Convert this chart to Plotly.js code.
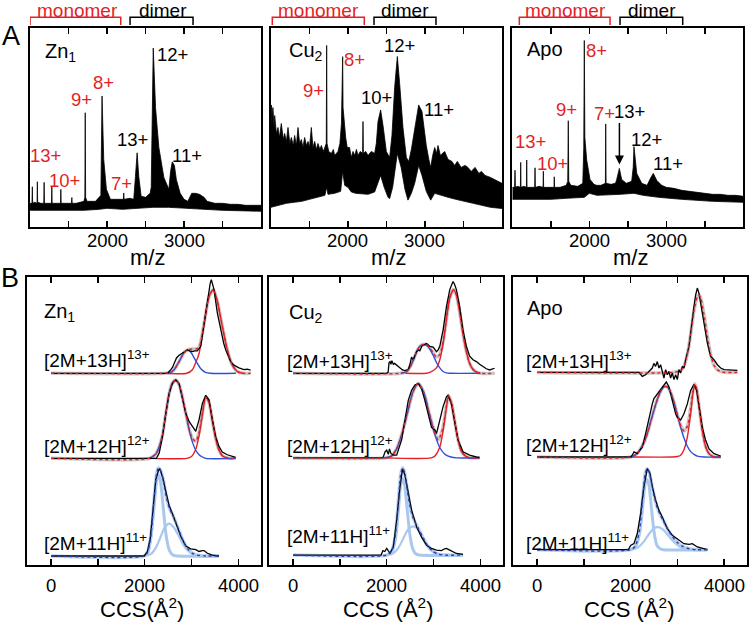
<!DOCTYPE html>
<html><head><meta charset="utf-8">
<script src="https://cdn.plot.ly/plotly-3.0.1.min.js"></script>
<style>html,body{margin:0;padding:0;background:#fff}#chart{width:749px;height:623px}</style>
</head><body><div id="chart"></div>
<script>
// ---------------- DATA ----------------
const ms_tick_vals = [1500, 2000, 2500, 3000, 3500];
const ms_tick_text = ['', '2000', '', '3000', ''];
const ccs_tick_vals = [0, 1000, 2000, 3000, 4000];
const ccs_tick_text = ['0', '', '2000', '', '4000'];

// Panel A: mass spectra (m/z, relative intensity); noisy trace drawn as band between envelopes
const zn_ms_upper = [[1000,0.12],[1025,0.12],[1030,0.203],[1034,0.12],[1060,0.125],[1091,0.12],[1095,0.228],[1099,0.125],[1140,0.12],[1179,0.12],[1183,0.225],[1187,0.12],[1230,0.12],[1279,0.12],[1283,0.203],[1287,0.12],[1340,0.12],[1396,0.12],[1400,0.19],[1404,0.12],[1470,0.12],[1539,0.12],[1543,0.149],[1547,0.12],[1600,0.12],[1700,0.13],[1712,0.15],[1717,0.574],[1722,0.15],[1740,0.13],[1850,0.13],[1920,0.16],[1935,0.658],[1945,0.42],[1957,0.34],[1992,0.19],[2044,0.14],[2150,0.14],[2212,0.14],[2217,0.172],[2222,0.14],[2300,0.145],[2347,0.14],[2369,0.255],[2391,0.373],[2412,0.255],[2443,0.155],[2500,0.15],[2560,0.17],[2574,0.2],[2587,0.53],[2600,0.898],[2630,0.6],[2673,0.4],[2738,0.25],[2803,0.19],[2825,0.28],[2847,0.328],[2875,0.31],[2900,0.24],[2950,0.17],[3000,0.14],[3050,0.13],[3100,0.17],[3150,0.17],[3200,0.165],[3260,0.15],[3300,0.13],[3400,0.12],[3500,0.12],[3600,0.115],[3700,0.115],[3800,0.11],[3900,0.11],[4000,0.11]];
const zn_ms_lower = [[1000,0.085],[1200,0.085],[1500,0.085],[1700,0.085],[1900,0.09],[2000,0.095],[2200,0.09],[2400,0.095],[2600,0.1],[2800,0.1],[3000,0.095],[3200,0.09],[3500,0.085],[4000,0.08]];

const cu_ms_upper = [[1000,0.5],[1004,0.613],[1015,0.55],[1025,0.6],[1040,0.5],[1048,0.56],[1070,0.47],[1091,0.5],[1110,0.45],[1134,0.52],[1160,0.44],[1177,0.47],[1200,0.43],[1221,0.5],[1245,0.42],[1264,0.45],[1290,0.41],[1307,0.46],[1330,0.41],[1351,0.5],[1372,0.42],[1394,0.44],[1415,0.4],[1437,0.45],[1460,0.41],[1481,0.43],[1500,0.4],[1524,0.5],[1545,0.4],[1567,0.43],[1590,0.39],[1610,0.42],[1635,0.39],[1654,0.41],[1680,0.38],[1700,0.4],[1718,0.42],[1723,0.911],[1728,0.42],[1750,0.38],[1784,0.37],[1810,0.39],[1827,0.36],[1870,0.38],[1895,0.42],[1915,0.52],[1925,0.7],[1931,0.855],[1936,0.6],[1950,0.52],[1970,0.45],[1990,0.4],[2020,0.4],[2043,0.35],[2065,0.38],[2087,0.36],[2110,0.39],[2130,0.36],[2160,0.38],[2190,0.37],[2195,0.53],[2200,0.37],[2230,0.38],[2260,0.36],[2303,0.38],[2346,0.37],[2368,0.42],[2390,0.53],[2424,0.588],[2455,0.51],[2498,0.38],[2541,0.35],[2571,0.46],[2606,0.7],[2641,0.856],[2671,0.72],[2714,0.5],[2758,0.35],[2790,0.33],[2823,0.39],[2866,0.5],[2918,0.613],[2961,0.58],[3017,0.41],[3050,0.34],[3074,0.3],[3100,0.36],[3126,0.4],[3150,0.37],[3169,0.41],[3200,0.36],[3255,0.38],[3300,0.34],[3350,0.33],[3385,0.31],[3420,0.33],[3470,0.3],[3520,0.31],[3558,0.3],[3600,0.28],[3650,0.3],[3700,0.27],[3732,0.28],[3780,0.26],[3850,0.25],[3900,0.24],[3950,0.23],[4000,0.22]];
const cu_ms_lower = [[1000,0.1],[1100,0.11],[1200,0.12],[1300,0.125],[1400,0.13],[1500,0.14],[1600,0.15],[1700,0.16],[1723,0.2],[1740,0.165],[1827,0.17],[1905,0.18],[1931,0.28],[1957,0.21],[2000,0.2],[2043,0.177],[2100,0.17],[2200,0.165],[2260,0.165],[2346,0.177],[2424,0.26],[2470,0.2],[2520,0.15],[2541,0.144],[2580,0.2],[2641,0.37],[2690,0.3],[2740,0.19],[2779,0.136],[2823,0.17],[2866,0.22],[2918,0.31],[2961,0.26],[3017,0.18],[3074,0.136],[3126,0.17],[3200,0.16],[3300,0.15],[3400,0.14],[3558,0.127],[3732,0.11],[3850,0.1],[4000,0.094]];

const apo_ms_upper = [[1000,0.2],[1030,0.2],[1035,0.286],[1040,0.2],[1070,0.205],[1105,0.2],[1109,0.325],[1113,0.2],[1150,0.205],[1183,0.2],[1187,0.337],[1191,0.2],[1240,0.2],[1291,0.2],[1295,0.298],[1299,0.2],[1350,0.205],[1399,0.2],[1403,0.281],[1407,0.2],[1470,0.2],[1541,0.2],[1545,0.253],[1549,0.2],[1620,0.2],[1700,0.21],[1720,0.23],[1727,0.534],[1733,0.23],[1760,0.21],[1850,0.205],[1915,0.22],[1928,0.4],[1935,0.936],[1942,0.45],[1966,0.337],[2009,0.24],[2060,0.215],[2096,0.21],[2150,0.21],[2209,0.22],[2213,0.518],[2218,0.22],[2280,0.215],[2340,0.22],[2356,0.24],[2390,0.295],[2420,0.24],[2480,0.22],[2550,0.23],[2570,0.3],[2580,0.404],[2595,0.33],[2616,0.27],[2681,0.22],[2750,0.21],[2800,0.25],[2831,0.27],[2875,0.235],[2940,0.21],[3000,0.2],[3100,0.195],[3200,0.185],[3300,0.18],[3400,0.175],[3500,0.17],[3600,0.165],[3700,0.165],[3800,0.16],[3900,0.16],[4000,0.155]];
const apo_ms_lower = [[1000,0.14],[1500,0.14],[1700,0.145],[1935,0.15],[2000,0.17],[2100,0.16],[2400,0.165],[2580,0.17],[2700,0.16],[2900,0.15],[3200,0.14],[3600,0.13],[4000,0.125]];

const monomer_ranges = {zn:[1000,2178], cu:[1017,2212], apo:[1091,2269]};
const dimer_ranges   = {zn:[2299,3117], cu:[2338,3143], apo:[2399,3213]};

// Panel B: CCS distributions (CCS in Å², normalised intensity)
const zn13_exp  = [[0,0],[2487,0],[2558,0.04],[2600,0.07],[2629,0.11],[2680,0.17],[2735,0.2],[2790,0.22],[2842,0.24],[2913,0.26],[2960,0.25],[3019,0.24],[3070,0.25],[3126,0.25],[3198,0.3],[3268,0.56],[3339,0.82],[3400,1.0],[3424,1.04],[3482,0.93],[3552,0.67],[3624,0.48],[3690,0.33],[3731,0.26],[3838,0.13],[3908,0.09],[4015,0.06],[4121,0.04],[4192,0.045],[4264,0.035]];
const zn13_red  = [[2450,0],[2900,0],[3019,0.04],[3100,0.13],[3162,0.22],[3268,0.54],[3375,0.85],[3467,0.93],[3552,0.8],[3659,0.52],[3766,0.26],[3873,0.09],[3979,0.02],[4100,0]];
const zn13_blue = [[2450,0],[2550,0.01],[2629,0.04],[2735,0.13],[2842,0.23],[2913,0.26],[2990,0.23],[3090,0.14],[3200,0.05],[3300,0.01],[3400,0],[3950,0]];
const zn13_sum  = [[0,0],[2450,0],[2550,0.01],[2629,0.04],[2735,0.13],[2842,0.23],[2913,0.26],[3019,0.27],[3100,0.27],[3162,0.29],[3268,0.55],[3375,0.85],[3467,0.93],[3552,0.8],[3659,0.52],[3766,0.26],[3873,0.09],[3979,0.02],[4100,0],[4264,0]];
const zn12_exp  = [[0,0],[2250,0],[2311,0.06],[2380,0.24],[2452,0.5],[2522,0.72],[2593,0.83],[2665,0.87],[2735,0.83],[2806,0.68],[2878,0.5],[2949,0.41],[3020,0.35],[3091,0.3],[3162,0.43],[3233,0.61],[3305,0.7],[3375,0.65],[3446,0.43],[3518,0.24],[3590,0.13],[3659,0.07],[3765,0.04],[3872,0.02],[3944,0.01]];
const zn12_blue = [[2100,0],[2240,0.05],[2311,0.13],[2380,0.26],[2452,0.5],[2522,0.72],[2593,0.84],[2665,0.87],[2735,0.82],[2806,0.68],[2878,0.5],[2949,0.32],[3020,0.18],[3091,0.09],[3162,0.04],[3233,0.015],[3305,0],[3944,0]];
const zn12_red  = [[2100,0],[2900,0],[3000,0.02],[3091,0.1],[3162,0.25],[3233,0.48],[3305,0.68],[3375,0.62],[3446,0.42],[3518,0.22],[3590,0.09],[3659,0.03],[3730,0.01],[3800,0],[3944,0]];
const zn12_sum  = [[0,0],[2100,0],[2240,0.05],[2311,0.13],[2380,0.26],[2452,0.5],[2522,0.72],[2593,0.84],[2665,0.87],[2735,0.82],[2806,0.68],[2878,0.5],[2949,0.33],[3020,0.22],[3091,0.19],[3162,0.29],[3233,0.5],[3305,0.68],[3375,0.62],[3446,0.42],[3518,0.22],[3590,0.09],[3659,0.03],[3730,0.01],[3800,0],[3944,0]];
const zn11_exp  = [[0,0],[1990,0],[2060,0.05],[2120,0.2],[2166,0.45],[2237,0.85],[2294,0.95],[2323,0.97],[2380,0.88],[2452,0.7],[2522,0.56],[2593,0.47],[2665,0.37],[2771,0.22],[2878,0.11],[2985,0.08],[3091,0.07],[3162,0.05],[3230,0.06],[3268,0.06],[3340,0.03],[3446,0.01],[3588,0]];
const zn11_narrow = [[1990,0],[2060,0.03],[2130,0.2],[2200,0.55],[2260,0.85],[2300,0.9],[2340,0.82],[2400,0.52],[2460,0.22],[2530,0.06],[2600,0.01],[2700,0],[3588,0]];
const zn11_wide = [[2000,0],[2130,0.02],[2237,0.09],[2330,0.2],[2420,0.31],[2522,0.36],[2620,0.32],[2720,0.23],[2820,0.13],[2920,0.06],[3020,0.02],[3120,0.005],[3300,0],[3588,0]];
const zn11_sum  = [[0,0],[1990,0],[2060,0.04],[2130,0.22],[2200,0.62],[2260,0.93],[2300,0.98],[2340,0.95],[2400,0.84],[2460,0.66],[2530,0.53],[2620,0.43],[2720,0.3],[2820,0.17],[2920,0.08],[3020,0.03],[3120,0.01],[3300,0],[3588,0]];

const cu13_exp  = [[0,0],[2000,0],[2030,0.01],[2050,0.12],[2071,0.13],[2090,0.1],[2110,0.14],[2141,0.1],[2170,0.11],[2213,0.09],[2250,0.07],[2284,0.06],[2330,0.04],[2380,0.03],[2426,0.04],[2460,0.04],[2497,0.1],[2530,0.18],[2567,0.15],[2600,0.2],[2639,0.24],[2680,0.26],[2709,0.25],[2750,0.3],[2780,0.315],[2852,0.33],[2900,0.31],[2922,0.3],[2993,0.29],[3030,0.26],[3064,0.24],[3100,0.26],[3135,0.3],[3205,0.48],[3277,0.74],[3348,0.93],[3418,1.02],[3450,0.99],[3490,0.93],[3560,0.74],[3631,0.48],[3703,0.3],[3773,0.19],[3845,0.15],[3916,0.13],[3986,0.1],[4056,0.074],[4130,0.05],[4199,0.037],[4250,0.05],[4305,0.056]];
const cu13_blue = [[2300,0],[2430,0.02],[2500,0.07],[2570,0.15],[2640,0.24],[2710,0.3],[2780,0.315],[2852,0.31],[2922,0.27],[2993,0.2],[3064,0.12],[3135,0.06],[3205,0.02],[3277,0.005],[3348,0],[4000,0]];
const cu13_red  = [[2400,0],[2850,0],[2922,0.01],[3064,0.06],[3135,0.15],[3205,0.33],[3277,0.6],[3348,0.84],[3430,0.93],[3490,0.87],[3560,0.68],[3631,0.44],[3703,0.24],[3773,0.11],[3850,0.04],[3916,0.015],[4000,0]];
const cu13_sum  = [[0,0],[2300,0],[2430,0.02],[2500,0.07],[2570,0.15],[2640,0.24],[2710,0.3],[2780,0.32],[2852,0.32],[2922,0.28],[2993,0.23],[3064,0.18],[3135,0.21],[3205,0.35],[3277,0.6],[3348,0.84],[3430,0.93],[3490,0.87],[3560,0.68],[3631,0.44],[3703,0.24],[3773,0.11],[3850,0.04],[3916,0.015],[4000,0],[4305,0]];
const cu12_exp  = [[0,0],[1920,0],[1965,0.067],[2000,0.085],[2035,0.04],[2060,0.1],[2090,0.05],[2141,0.03],[2213,0.03],[2319,0.2],[2390,0.42],[2461,0.64],[2532,0.75],[2603,0.81],[2675,0.826],[2745,0.77],[2816,0.64],[2887,0.49],[2958,0.34],[3029,0.31],[3064,0.27],[3135,0.42],[3205,0.57],[3277,0.678],[3312,0.696],[3383,0.6],[3454,0.38],[3525,0.2],[3631,0.067],[3773,0.03],[3916,0.01],[3986,0.005]];
const cu12_blue = [[1950,0],[2100,0.02],[2211,0.1],[2327,0.27],[2443,0.5],[2559,0.73],[2675,0.826],[2791,0.73],[2907,0.5],[3023,0.27],[3139,0.11],[3255,0.036],[3371,0.01],[3500,0],[3986,0]];
const cu12_red  = [[1950,0],[2950,0],[3030,0.02],[3135,0.12],[3205,0.3],[3277,0.56],[3320,0.685],[3390,0.6],[3450,0.42],[3525,0.2],[3600,0.07],[3700,0.015],[3780,0],[3986,0]];
const cu12_sum  = [[0,0],[1950,0],[2100,0.02],[2211,0.1],[2327,0.27],[2443,0.5],[2559,0.73],[2675,0.826],[2791,0.73],[2907,0.5],[3023,0.29],[3100,0.2],[3135,0.23],[3205,0.34],[3277,0.58],[3320,0.69],[3390,0.6],[3450,0.42],[3525,0.2],[3600,0.07],[3700,0.015],[3780,0],[3986,0]];
const cu11_exp  = [[0,0],[1880,0],[1920,0.05],[1960,0.04],[2000,0.074],[2070,0.02],[2141,0.09],[2213,0.39],[2284,0.76],[2340,0.96],[2390,0.89],[2461,0.69],[2532,0.5],[2639,0.315],[2745,0.2],[2852,0.11],[2958,0.074],[3064,0.056],[3171,0.05],[3240,0.07],[3277,0.074],[3348,0.056],[3490,0.018],[3631,0.007]];
const cu11_narrow = [[2000,0],[2100,0.03],[2180,0.16],[2250,0.5],[2300,0.78],[2340,0.85],[2380,0.79],[2430,0.55],[2490,0.25],[2550,0.08],[2620,0.015],[2700,0],[3631,0]];
const cu11_wide = [[2000,0],[2140,0.02],[2250,0.08],[2350,0.18],[2450,0.28],[2567,0.32],[2680,0.28],[2780,0.19],[2880,0.1],[2990,0.04],[3100,0.01],[3250,0],[3631,0]];
const cu11_sum  = [[0,0],[2000,0],[2100,0.04],[2180,0.2],[2250,0.6],[2300,0.9],[2340,0.97],[2380,0.92],[2430,0.76],[2490,0.56],[2567,0.41],[2680,0.29],[2780,0.19],[2880,0.1],[2990,0.04],[3100,0.01],[3250,0],[3631,0]];

const apo13_exp = [[0,0],[2141,0],[2177,0],[2248,-0.044],[2319,-0.026],[2390,0.01],[2462,0.048],[2497,0.1],[2533,0.067],[2569,0.12],[2604,0.048],[2640,0.085],[2676,-0.007],[2711,-0.063],[2747,0.03],[2783,-0.026],[2818,0.01],[2854,-0.063],[2890,-0.007],[2925,-0.08],[2961,-0.026],[2997,-0.08],[3032,0.03],[3068,-0.007],[3104,0.067],[3139,0.048],[3175,0.14],[3211,0.215],[3246,0.29],[3282,0.437],[3318,0.62],[3353,0.733],[3389,0.86],[3425,0.937],[3460,0.88],[3496,0.77],[3567,0.51],[3640,0.326],[3710,0.178],[3781,0.14],[3853,0.085],[3924,0.048],[3995,0.03],[4138,0.022],[4282,0.022]];
const apo13_sum = [[0,0],[2900,0],[3068,0.02],[3139,0.07],[3211,0.2],[3282,0.42],[3353,0.68],[3425,0.84],[3460,0.86],[3496,0.83],[3567,0.64],[3640,0.4],[3710,0.2],[3781,0.08],[3850,0.03],[3924,0.01],[4000,0],[4282,0]];
const apo12_exp = [[0,0],[2000,0],[2034,0.02],[2070,0.056],[2141,0.04],[2248,0.11],[2319,0.26],[2390,0.44],[2462,0.59],[2497,0.65],[2569,0.7],[2640,0.74],[2711,0.8],[2761,0.833],[2818,0.78],[2890,0.63],[2961,0.48],[2997,0.44],[3032,0.42],[3068,0.41],[3139,0.48],[3211,0.59],[3282,0.74],[3353,0.807],[3410,0.74],[3460,0.56],[3532,0.33],[3603,0.185],[3675,0.09],[3781,0.037],[3924,0.011]];
const apo12_blue = [[2000,0],[2141,0.04],[2283,0.16],[2355,0.26],[2426,0.39],[2497,0.52],[2569,0.64],[2640,0.73],[2711,0.78],[2783,0.78],[2854,0.72],[2925,0.61],[2997,0.47],[3068,0.33],[3139,0.21],[3211,0.12],[3282,0.06],[3353,0.03],[3425,0.01],[3567,0],[3924,0]];
const apo12_red = [[2000,0],[2900,0],[3000,0.005],[3068,0.02],[3139,0.08],[3211,0.22],[3282,0.48],[3330,0.7],[3367,0.8],[3410,0.75],[3460,0.56],[3530,0.3],[3600,0.12],[3670,0.04],[3740,0.01],[3800,0],[3924,0]];
const apo12_sum = [[0,0],[2000,0],[2141,0.04],[2283,0.16],[2355,0.26],[2426,0.39],[2497,0.52],[2569,0.64],[2640,0.73],[2711,0.78],[2783,0.78],[2854,0.72],[2925,0.61],[2997,0.47],[3068,0.35],[3139,0.29],[3211,0.34],[3282,0.54],[3330,0.73],[3367,0.81],[3410,0.76],[3460,0.57],[3530,0.3],[3600,0.12],[3670,0.04],[3740,0.01],[3800,0],[3924,0]];
const apo11_exp = [[0,0],[1950,0],[1998,0.048],[2070,0.067],[2141,0.18],[2212,0.4],[2283,0.7],[2340,0.88],[2355,0.9],[2412,0.85],[2462,0.7],[2533,0.55],[2604,0.437],[2676,0.363],[2783,0.233],[2890,0.16],[2997,0.122],[3139,0.067],[3246,0.06],[3318,0.067],[3425,0.03],[3567,0.011],[3640,0]];
const apo11_narrow = [[2000,0],[2100,0.03],[2190,0.18],[2260,0.5],[2310,0.73],[2350,0.78],[2390,0.72],[2440,0.48],[2500,0.2],[2560,0.05],[2630,0.01],[2700,0],[3640,0]];
const apo11_wide = [[2000,0],[2140,0.02],[2280,0.09],[2400,0.18],[2500,0.24],[2600,0.25],[2700,0.22],[2800,0.16],[2900,0.1],[3000,0.05],[3100,0.02],[3250,0.005],[3400,0],[3640,0]];
const apo11_sum = [[0,0],[2000,0],[2100,0.04],[2190,0.22],[2260,0.6],[2310,0.84],[2350,0.9],[2390,0.87],[2440,0.75],[2500,0.6],[2560,0.48],[2630,0.39],[2700,0.32],[2800,0.22],[2900,0.14],[3000,0.08],[3100,0.04],[3250,0.01],[3400,0],[3640,0]];

const ion_labels = ['[2M+11H]<sup>11+</sup>', '[2M+12H]<sup>12+</sup>', '[2M+13H]<sup>13+</sup>'];

// ---------------- STYLE / LAYOUT ----------------
const FONT = 'Liberation Sans, Arial, Helvetica, sans-serif';
const RED = '#e41f26';
const BLUE = '#2f4fd6';
const LBLUE = '#a9c8ee';
const GREY = '#cdc6c6';
const DBLUE = '#2a3fb0';
const stack = {zn:[0, 1.085, 2.03], cu:[0.01, 1.09, 2.03], apo:[0.07, 1.1, 2.04]};

const traces = [];
function xs(p){return p.map(d=>d[0]);}
function ys(p,off){return p.map(d=>d[1]+(off||0));}
function band(lower, upper, xa, ya){
  traces.push({x:xs(lower), y:ys(lower), xaxis:xa, yaxis:ya, mode:'lines', line:{color:'#000', width:0.8}, hoverinfo:'skip', showlegend:false});
  traces.push({x:xs(upper), y:ys(upper), xaxis:xa, yaxis:ya, mode:'lines', fill:'tonexty', fillcolor:'#000', line:{color:'#000', width:0.8}, hoverinfo:'skip', showlegend:false});
}
function ln(p, off, xa, ya, color, width, dash, shape){
  traces.push({x:xs(p), y:ys(p,off), xaxis:xa, yaxis:ya, mode:'lines',
    line:{color:color, width:width, dash:dash||'solid', shape:shape||'linear', smoothing:0.7},
    hoverinfo:'skip', showlegend:false});
}
band(zn_ms_lower, zn_ms_upper, 'x', 'y');
band(cu_ms_lower, cu_ms_upper, 'x2', 'y2');
band(apo_ms_lower, apo_ms_upper, 'x3', 'y3');

function ccsPanel(key, xa, ya, d){
  const o = stack[key];
  ln(d.s13, o[2], xa, ya, GREY, 3.5, 'solid', 'spline');
  if (d.r13) ln(d.r13, o[2], xa, ya, RED, 1.4, 'solid', 'spline');
  if (d.b13) ln(d.b13, o[2], xa, ya, BLUE, 1.4, 'solid', 'spline');
  ln(d.e13, o[2], xa, ya, '#000', 1.3);
  ln(d.s13, o[2], xa, ya, RED, 1.4, 'dot', 'spline');
  ln(d.s12, o[1], xa, ya, GREY, 3.5, 'solid', 'spline');
  ln(d.r12, o[1], xa, ya, RED, 1.4, 'solid', 'spline');
  ln(d.b12, o[1], xa, ya, BLUE, 1.4, 'solid', 'spline');
  ln(d.e12, o[1], xa, ya, '#000', 1.3);
  ln(d.s12, o[1], xa, ya, RED, 1.4, 'dot', 'spline');
  ln(d.s11, o[0], xa, ya, '#bcd3f1', 3.5, 'solid', 'spline');
  ln(d.n11, o[0], xa, ya, LBLUE, 3, 'solid', 'spline');
  ln(d.w11, o[0], xa, ya, LBLUE, 2.2, 'solid', 'spline');
  ln(d.e11, o[0], xa, ya, '#000', 1.3);
  ln(d.s11, o[0], xa, ya, DBLUE, 1.4, 'dot', 'spline');
}
ccsPanel('zn','x4','y4',{s13:zn13_sum,r13:zn13_red,b13:zn13_blue,e13:zn13_exp,s12:zn12_sum,r12:zn12_red,b12:zn12_blue,e12:zn12_exp,s11:zn11_sum,n11:zn11_narrow,w11:zn11_wide,e11:zn11_exp});
ccsPanel('cu','x5','y5',{s13:cu13_sum,r13:cu13_red,b13:cu13_blue,e13:cu13_exp,s12:cu12_sum,r12:cu12_red,b12:cu12_blue,e12:cu12_exp,s11:cu11_sum,n11:cu11_narrow,w11:cu11_wide,e11:cu11_exp});
ccsPanel('apo','x6','y6',{s13:apo13_sum,e13:apo13_exp,s12:apo12_sum,r12:apo12_red,b12:apo12_blue,e12:apo12_exp,s11:apo11_sum,n11:apo11_narrow,w11:apo11_wide,e11:apo11_exp});

function xAx(domain, anchor, range, tv, tt){
  return {domain:domain, anchor:anchor, range:range, showline:true, linecolor:'#000', linewidth:2,
    mirror:'ticks', ticks:'inside', ticklen:6, tickwidth:1.5, tickcolor:'#000',
    tickmode:'array', tickvals:tv, ticktext:tt, showticklabels:false,
    showgrid:false, zeroline:false, fixedrange:true};
}
function yAx(domain, anchor, range){
  return {domain:domain, anchor:anchor, range:range, showline:true, linecolor:'#000', linewidth:2,
    mirror:true, ticks:'', showticklabels:false, showgrid:false, zeroline:false, fixedrange:true};
}
const TOPY = [0.6352, 0.9555], BOTY = [0.0931, 0.5554];
const MSR = [1000, 4000], CCSR = [-510, 4480];
const layout = {
  width:749, height:623, margin:{l:0, r:0, t:0, b:0}, paper_bgcolor:'#fff', plot_bgcolor:'#fff',
  font:{family:FONT, size:18, color:'#000'}, showlegend:false,
  xaxis:  xAx([0.0401,0.3485], 'y',  MSR, ms_tick_vals, ms_tick_text),
  xaxis2: xAx([0.3618,0.6702], 'y2', MSR, ms_tick_vals, ms_tick_text),
  xaxis3: xAx([0.6840,0.9924], 'y3', MSR, ms_tick_vals, ms_tick_text),
  xaxis4: xAx([0.0364,0.3481], 'y4', CCSR, ccs_tick_vals, ccs_tick_text),
  xaxis5: xAx([0.3595,0.6712], 'y5', CCSR, ccs_tick_vals, ccs_tick_text),
  xaxis6: xAx([0.6853,0.9969], 'y6', CCSR, ccs_tick_vals, ccs_tick_text),
  yaxis:  yAx(TOPY, 'x',  [0,1]),
  yaxis2: yAx(TOPY, 'x2', [0,1]),
  yaxis3: yAx(TOPY, 'x3', [0,1]),
  yaxis4: yAx(BOTY, 'x4', [-0.1,3.1]),
  yaxis5: yAx(BOTY, 'x5', [-0.1,3.1]),
  yaxis6: yAx(BOTY, 'x6', [-0.1,3.1]),
  shapes:[], annotations:[]
};
const A = layout.annotations, S = layout.shapes;
function txt(text, x, y, xref, yref, opts){
  A.push(Object.assign({text:text, x:x, y:y, xref:xref, yref:yref, showarrow:false,
    font:{family:FONT, size:18, color:'#000'}, xanchor:'center', yanchor:'middle'}, opts||{}));
}
// tick labels (placed just below each axis)
['x','x2','x3'].forEach(function(ax){
  ms_tick_vals.forEach(function(v,i){ if (ms_tick_text[i]) txt(ms_tick_text[i], v, 0.6132, ax, 'paper', {font:{family:FONT, size:18.5, color:'#000'}}); });
});
['x4','x5','x6'].forEach(function(ax){
  ccs_tick_vals.forEach(function(v,i){ if (ccs_tick_text[i]) txt(ccs_tick_text[i], v, 0.0602, ax, 'paper', {font:{family:FONT, size:18.5, color:'#000'}}); });
});
// panel letters
txt('A', 0.0147, 0.9422, 'paper', 'paper', {font:{family:FONT, size:27, color:'#000'}});
txt('B', 0.0134, 0.553, 'paper', 'paper', {font:{family:FONT, size:27, color:'#000'}});
// axis titles
[147.5, 388.5, 630.8].forEach(function(px){ txt('m/z', px/749, 0.587, 'paper', 'paper', {font:{family:FONT, size:22, color:'#000'}}); });
txt('CCS(Å<sup>2</sup>)', 142/749, 0.024, 'paper', 'paper', {font:{family:FONT, size:22, color:'#000'}});
txt('CCS (Å<sup>2</sup>)', 387.5/749, 0.024, 'paper', 'paper', {font:{family:FONT, size:22, color:'#000'}});
txt('CCS (Å<sup>2</sup>)', 629/749, 0.024, 'paper', 'paper', {font:{family:FONT, size:22, color:'#000'}});
// monomer / dimer brackets
[['zn','x',77,162.5],['cu','x2',318,405],['apo','x3',565,651.7]].forEach(function(d){
  const m = monomer_ranges[d[0]], di = dimer_ranges[d[0]];
  S.push({type:'path', xref:d[1], yref:'paper', path:'M '+m[0]+' 0.9599 L '+m[0]+' 0.9722 L '+m[1]+' 0.9722 L '+m[1]+' 0.9599', line:{color:RED, width:1.5}});
  S.push({type:'path', xref:d[1], yref:'paper', path:'M '+di[0]+' 0.9599 L '+di[0]+' 0.9722 L '+di[1]+' 0.9722 L '+di[1]+' 0.9599', line:{color:'#000', width:1.5}});
  txt('monomer', d[2]/749, 0.9835, 'paper', 'paper', {borderpad:0, font:{family:FONT, size:19, color:RED}});
  txt('dimer', d[3]/749, 0.9835, 'paper', 'paper', {borderpad:0, font:{family:FONT, size:19, color:'#000'}});
});
// panel names
const NF = {family:FONT, size:20, color:'#000'};
txt('Zn<sub>1</sub>', 1170, 0.875, 'x', 'y', {xanchor:'left', font:NF});
txt('Cu<sub>2</sub>', 1204, 0.882, 'x2', 'y2', {xanchor:'left', font:NF});
txt('Apo', 1165, 0.894, 'x3', 'y3', {xanchor:'left', font:NF});
txt('Zn<sub>1</sub>', -185, 2.71, 'x4', 'y4', {xanchor:'left', font:NF});
txt('Cu<sub>2</sub>', -128, 2.69, 'x5', 'y5', {xanchor:'left', font:NF});
txt('Apo', -250, 2.76, 'x6', 'y6', {xanchor:'left', font:NF});
// charge state labels
const R = RED, K = '#000';
[['13+',1206,0.358,R],['10+',1447,0.236,R],['9+',1674,0.642,R],['8+',1956,0.725,R],['7+',2186,0.219,R],['13+',2334,0.442,K],['12+',2847,0.864,K],['11+',3043,0.362,K]]
  .forEach(function(d){ txt(d[0], d[1], d[2], 'x', 'y', {font:{family:FONT, size:18.5, color:d[3]}}); });
[['9+',1558,0.685,R],['8+',2087,0.839,R],['12+',2675,0.911,K],['10+',2372,0.652,K],['11+',3182,0.588,K]]
  .forEach(function(d){ txt(d[0], d[1], d[2], 'x2', 'y2', {font:{family:FONT, size:18.5, color:d[3]}}); });
[['8+',2096,0.886,R],['9+',1710,0.588,R],['7+',2191,0.568,R],['13+',2519,0.579,K],['12+',2745,0.441,K],['11+',3026,0.32,K],['13+',1230,0.429,R],['10+',1516,0.32,R]]
  .forEach(function(d){ txt(d[0], d[1], d[2], 'x3', 'y3', {font:{family:FONT, size:18.5, color:d[3]}}); });
A.push({x:2391, y:0.315, ax:2391, ay:0.53, xref:'x3', yref:'y3', axref:'x3', ayref:'y3', text:'', showarrow:true, arrowhead:2, arrowsize:1.2, arrowwidth:1.5, arrowcolor:'#000'});
// ion labels in panel B
[['x4','y4',-192,[0.152,1.233,2.186]],['x5','y5',-164,[0.233,1.233,2.178]],['x6','y6',-287,[0.15,1.242,2.174]]].forEach(function(d){
  for (let i=0;i<3;i++) txt(ion_labels[i], d[2], d[3][i], d[0], d[1], {xanchor:'left', font:{family:FONT, size:19, color:'#000'}});
});

Plotly.newPlot('chart', traces, layout, {staticPlot:true, displayModeBar:false});
</script></body></html>
